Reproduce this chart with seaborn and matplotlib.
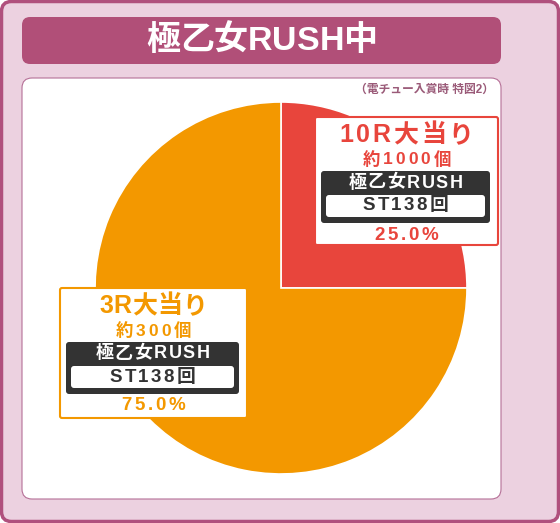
import numpy as np
import seaborn as sns
import matplotlib.pyplot as plt
from matplotlib.patches import FancyBboxPatch

# data
title = "極乙女RUSH中"
note = "（電チュー入賞時 特図2）"
labels = ["10R大当り", "3R大当り"]
payouts = ["約1000個", "約300個"]
modes = ["極乙女RUSH", "極乙女RUSH"]
st_games = ["ST138回", "ST138回"]
shares = [25.0, 75.0]
colors = ["#e8453c", "#f39800"]

sns.set_theme(style="white")
plt.rcParams["font.family"] = ["Liberation Sans", "Noto Sans CJK JP", "DejaVu Sans"]

W, H = 560, 523
fig = plt.figure(figsize=(W / 100, H / 100), dpi=100)
ax = fig.add_axes([0, 0, 1, 1])
ax.set_xlim(0, W)
ax.set_ylim(0, H)
ax.set_aspect("equal")
ax.axis("off")
renderer = fig.canvas.get_renderer()


def Y(y):
    return H - y


def rbox(x0, y0, x1, y1, fc, ec, lw=1, r=6, z=2):
    p = FancyBboxPatch((x0, Y(y1)), x1 - x0, y1 - y0,
                       boxstyle=f"round,pad=0,rounding_size={r}",
                       fc=fc, ec=ec, lw=lw, zorder=z)
    ax.add_patch(p)


def spaced(cx, y, s, width, **kw):
    # spread the characters a little so the string spans about `width` pixels
    ts = [ax.text(0, Y(y), ch, ha="left", va="center", fontweight="bold", **kw) for ch in s]
    ws = [t.get_window_extent(renderer).width for t in ts]
    gap = min(3, max(0, (width - sum(ws)) / (len(s) - 1)))
    x = cx - (sum(ws) + gap * (len(s) - 1)) / 2
    for t, w in zip(ts, ws):
        t.set_x(x)
        x += w + gap


# frame
rbox(1.5, 1.5, 558.5, 521.5, "#ecd1e0", "#b0507d", lw=2.5, r=10, z=0)
rbox(22, 17, 501, 64, "#b14f78", "none", r=8, z=1)
spaced(262, 41, title, 230, color="white", fontsize=24.5, zorder=3)
rbox(22, 78, 501, 499, "white", "#b57097", lw=0.8, r=10, z=1)
ax.text(494, Y(90), note, color="#9a5a78", fontsize=8.5, fontweight="bold",
        ha="right", va="center", zorder=3)

# pie
ax.pie(shares, colors=colors, startangle=90, counterclock=False,
       center=(281, Y(288)), radius=186,
       wedgeprops=dict(edgecolor="white", linewidth=1.2), frame=True)
ax.set_xlim(0, W)
ax.set_ylim(0, H)
ax.axis("off")

# label boxes: (x0, y0, x1, y1) in pixels, text widths from the reference
boxes = [(315, 117, 498, 245), (60, 288, 247, 418)]
label_w = [134, 108]
payout_w = [92, 76]
for i, (x0, y0, x1, y1) in enumerate(boxes):
    c = colors[i]
    cx = (x0 + x1) / 2
    rbox(x0, y0, x1, y1, "white", c, lw=1.5, r=2, z=4)
    spaced(cx, y0 + 18, labels[i], label_w[i], color=c, fontsize=18, zorder=6)
    spaced(cx, y0 + 43, payouts[i], payout_w[i], color=c, fontsize=12.5, zorder=6)
    rbox(x0 + 6, y0 + 54, x1 - 8, y0 + 106, "#333333", "none", r=3, z=5)
    spaced(cx - 1, y0 + 66, modes[i], 114, color="white", fontsize=13, zorder=6)
    rbox(x0 + 11, y0 + 78, x1 - 13, y0 + 100, "white", "none", r=3, z=6)
    spaced(cx - 1, y0 + 89, st_games[i], 86, color="#333333", fontsize=13.5, zorder=7)
    spaced(cx, y0 + 118, f"{shares[i]:.1f}%", 64, color=c, fontsize=13.5, zorder=6)

fig.savefig("out.png", dpi=100)
